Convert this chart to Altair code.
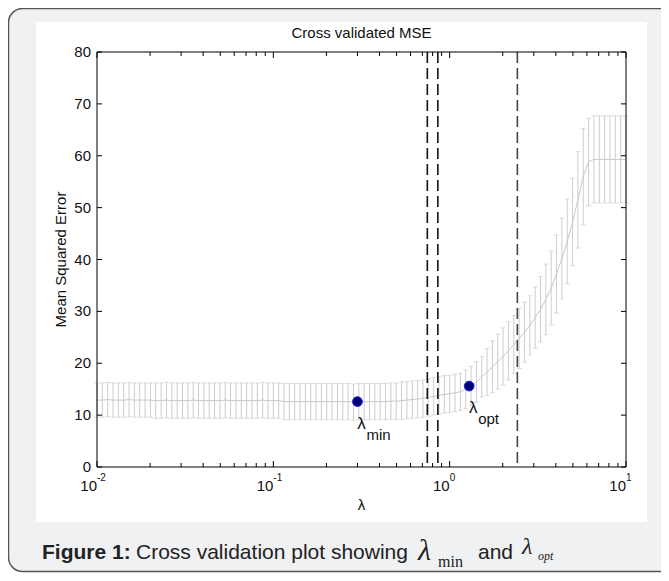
import altair as alt
import pandas as pd

# ---- data ----
lam = [0.0100, 0.01072, 0.01150, 0.01233, 0.01322, 0.01418, 0.01520, 0.01630, 0.01748, 0.01874,
       0.02009, 0.02154, 0.02310, 0.02477, 0.02656, 0.02848, 0.03054, 0.03275, 0.03511, 0.03765,
       0.04037, 0.04329, 0.04642, 0.04977, 0.05337, 0.05722, 0.06136, 0.06579, 0.07055, 0.07565,
       0.08111, 0.08697, 0.09326,
       0.1000, 0.1072, 0.1150, 0.1233, 0.1322, 0.1418, 0.1520, 0.1630, 0.1748, 0.1874,
       0.2009, 0.2154, 0.2310, 0.2477, 0.2656, 0.2848, 0.3054, 0.3275, 0.3511, 0.3765,
       0.4037, 0.4329, 0.4642, 0.4977, 0.5337, 0.5722, 0.6136, 0.6579, 0.7055, 0.7565,
       0.8111, 0.8697, 0.9326,
       1.000, 1.072, 1.150, 1.233, 1.322, 1.418, 1.520, 1.630, 1.748, 1.874,
       2.009, 2.154, 2.310, 2.477, 2.656, 2.848, 3.054, 3.275, 3.511, 3.765,
       4.037, 4.329, 4.642, 4.977, 5.337, 5.722, 6.136, 6.579, 7.055, 7.565,
       8.111, 8.697, 9.326, 10.00]

mse = [12.9, 12.9, 13.0, 12.9, 12.9, 12.9, 13.0, 12.9, 12.9, 12.9, 12.9,
       12.8, 12.8, 12.9, 12.8, 12.8, 12.8, 12.8, 12.9, 12.8, 12.8, 12.8, 12.8,
       12.8, 12.9, 12.8, 12.8, 12.8, 12.8, 12.8, 12.8, 12.9, 12.8, 12.8, 12.8,
       12.6, 12.6, 12.6, 12.6, 12.6, 12.6, 12.6, 12.6, 12.6, 12.6, 12.6, 12.6,
       12.6, 12.5, 12.6, 12.6, 12.6, 12.6,
       12.6, 12.6, 12.7, 12.7, 12.8, 12.9, 13.0,
       13.1, 13.2, 13.4, 13.6, 13.8, 14.0, 14.1, 14.3, 14.5, 15.0, 15.6, 16.4,
       17.4, 18.3, 19.3, 20.3, 21.3, 22.4, 23.6, 24.8, 26.0, 27.3, 28.8, 30.4,
       32.3, 34.5, 37.2, 40.2, 43.5, 47.2, 51.5, 56.0, 58.8,
       59.3, 59.3, 59.3, 59.3, 59.3, 59.3, 59.3]

err = [3.3] * 11 + [3.4] * 24 + [3.5] * 18 + \
      [3.5, 3.5, 3.5, 3.5, 3.6, 3.6, 3.6] + \
      [3.6, 3.6, 3.6, 3.6, 3.6, 3.6, 3.6, 3.6, 3.6, 3.7, 3.8, 3.9] + \
      [3.9, 4.5, 5.0, 5.3, 5.5, 5.6, 5.6, 5.8, 5.8, 5.7, 5.9, 6.3, 6.8, 7.1,
       7.5, 7.8, 8.2, 8.4, 9.3, 9.3, 8.4] + [8.4] * 7

mark_lam = [0.30, 1.29]
mark_mse = [12.6, 15.6]
mark_name = ["min", "opt"]

vline_lam = [0.747, 0.857, 2.42]
vline_col = ["#111111", "#111111", "#444444"]

y_ticks = [0, 10, 20, 30, 40, 50, 60, 70, 80]
x_major = [0.01, 0.1, 1, 10]
x_sup = ["-2", "-1", "0", "1"]
x_minor = [0.02, 0.03, 0.04, 0.05, 0.06, 0.07, 0.08, 0.09,
           0.2, 0.3, 0.4, 0.5, 0.6, 0.7, 0.8, 0.9,
           2, 3, 4, 5, 6, 7, 8, 9]

title_text = "Cross validated MSE"
ylabel_text = "Mean Squared Error"
xlabel_text = "λ"

# ---- tables ----
df = pd.DataFrame({"lam": lam, "mse": mse, "err": err})
df["lo"] = df["mse"] - df["err"]
df["hi"] = df["mse"] + df["err"]
pts = pd.DataFrame({"lam": mark_lam, "mse": mark_mse, "name": mark_name})
vl = pd.DataFrame({"lam": vline_lam, "c": vline_col})
yt = pd.DataFrame({"v": y_ticks, "t": [str(v) for v in y_ticks]})
xmj = pd.DataFrame({"v": x_major, "sup": x_sup})
xmn = pd.DataFrame({"v": x_minor})
one = pd.DataFrame({"a": [0]})

W, H = 529, 415
xs = alt.Scale(type="log", domain=[0.01, 10], nice=False)
ys = alt.Scale(domain=[0, 80], nice=False, zero=False)
FONT = "Liberation Sans"
TXT = "#111111"
CAP = "#222222"

def X(f):
    return alt.X(f, type="quantitative", scale=xs, axis=None)

def Y(f):
    return alt.Y(f, type="quantitative", scale=ys, axis=None)

layers = []

# background panel with rounded border, and white figure area
layers.append(alt.Chart(one).mark_rect(fill="#f0f1f3", stroke="#555555", strokeWidth=1.5,
                                       cornerRadius=14)
              .encode(x=alt.value(-88.5), x2=alt.value(700), y=alt.value(-43.5), y2=alt.value(519.5)))
layers.append(alt.Chart(one).mark_rect(fill="white")
              .encode(x=alt.value(-61), x2=alt.value(550), y=alt.value(-30), y2=alt.value(470)))

# error bars
bar_col = "#cdcdcd"
layers.append(alt.Chart(df).mark_rule(color=bar_col, strokeWidth=1)
              .encode(x=X("lam"), y=Y("lo"), y2="hi:Q"))
layers.append(alt.Chart(df).mark_tick(orient="horizontal", size=5, thickness=1, color=bar_col)
              .encode(x=X("lam"), y=Y("lo")))
layers.append(alt.Chart(df).mark_tick(orient="horizontal", size=5, thickness=1, color=bar_col)
              .encode(x=X("lam"), y=Y("hi")))
layers.append(alt.Chart(df).mark_line(color="#c8c8c8", strokeWidth=1)
              .encode(x=X("lam"), y=Y("mse")))

# dashed vertical lines
layers.append(alt.Chart(vl).mark_rule(strokeDash=[11, 5], strokeWidth=1.6)
              .encode(x=X("lam"), y=alt.value(0), y2=alt.value(H),
                      color=alt.Color("c:N", scale=None)))

# marked points
layers.append(alt.Chart(pts).mark_circle(size=95, opacity=1, fill="#000070", stroke="#1a1aff",
                                         strokeWidth=1)
              .encode(x=X("lam"), y=Y("mse")))
layers.append(alt.Chart(pts).mark_text(text="λ", font=FONT, fontSize=17, align="center",
                                       baseline="middle", dx=4, dy=22, color=TXT)
              .encode(x=X("lam"), y=Y("mse")))
layers.append(alt.Chart(pts).mark_text(font=FONT, fontSize=15, align="left",
                                       baseline="middle", dx=9, dy=33, color=TXT)
              .encode(x=X("lam"), y=Y("mse"), text="name:N"))

# frame
layers.append(alt.Chart(one).mark_rect(fillOpacity=0, stroke="#000000", strokeWidth=1)
              .encode(x=alt.value(0), x2=alt.value(W), y=alt.value(0), y2=alt.value(H)))

# inward ticks
tick_col = "#000000"
layers.append(alt.Chart(xmj).mark_rule(color=tick_col)
              .encode(x=X("v"), y=alt.value(H - 6), y2=alt.value(H)))
layers.append(alt.Chart(xmj).mark_rule(color=tick_col)
              .encode(x=X("v"), y=alt.value(0), y2=alt.value(6)))
layers.append(alt.Chart(xmn).mark_rule(color=tick_col)
              .encode(x=X("v"), y=alt.value(H - 4), y2=alt.value(H)))
layers.append(alt.Chart(xmn).mark_rule(color=tick_col)
              .encode(x=X("v"), y=alt.value(0), y2=alt.value(4)))
layers.append(alt.Chart(yt).mark_rule(color=tick_col)
              .encode(y=Y("v"), x=alt.value(0), x2=alt.value(5)))
layers.append(alt.Chart(yt).mark_rule(color=tick_col)
              .encode(y=Y("v"), x=alt.value(W - 5), x2=alt.value(W)))

# tick labels
layers.append(alt.Chart(yt).mark_text(font=FONT, fontSize=15, align="right", baseline="middle",
                                      color=TXT)
              .encode(y=Y("v"), x=alt.value(-6), text="t:N"))
layers.append(alt.Chart(xmj).mark_text(text="10", font=FONT, fontSize=15, align="right",
                                       baseline="middle", color=TXT)
              .encode(x=X("v"), y=alt.value(H + 19)))
layers.append(alt.Chart(xmj).mark_text(font=FONT, fontSize=10, align="left",
                                       baseline="middle", color=TXT)
              .encode(x=X("v"), y=alt.value(H + 11), text="sup:N"))

# titles
layers.append(alt.Chart(one).mark_text(text=title_text, font=FONT, fontSize=15, align="center",
                                       baseline="middle", color=TXT)
              .encode(x=alt.value(W / 2), y=alt.value(-19)))
layers.append(alt.Chart(one).mark_text(text=ylabel_text, font=FONT, fontSize=15, align="center",
                                       baseline="middle", angle=270, color=TXT)
              .encode(x=alt.value(-36), y=alt.value(H / 2)))
layers.append(alt.Chart(one).mark_text(text=xlabel_text, font=FONT, fontSize=15, align="center",
                                       baseline="middle", color=TXT)
              .encode(x=alt.value(W / 2), y=alt.value(H + 38)))

# caption
cap_y = 501
layers.append(alt.Chart(one).mark_text(text="Figure 1:", font=FONT, fontSize=21, fontWeight="bold",
                                       align="left", baseline="middle", color=CAP)
              .encode(x=alt.value(-55), y=alt.value(cap_y)))
layers.append(alt.Chart(one).mark_text(text="Cross validation plot showing", font=FONT, fontSize=21,
                                       align="left", baseline="middle", color=CAP)
              .encode(x=alt.value(39), y=alt.value(cap_y)))
layers.append(alt.Chart(one).mark_text(text="λ", font="Liberation Serif", fontStyle="italic",
                                       fontSize=30, align="left", baseline="middle", color=CAP)
              .encode(x=alt.value(321), y=alt.value(cap_y - 2)))
layers.append(alt.Chart(one).mark_text(text="min", font="Liberation Serif", fontSize=16,
                                       align="left", baseline="middle", color=CAP)
              .encode(x=alt.value(341), y=alt.value(cap_y + 9)))
layers.append(alt.Chart(one).mark_text(text="and", font=FONT, fontSize=21,
                                       align="left", baseline="middle", color=CAP)
              .encode(x=alt.value(381), y=alt.value(cap_y)))
layers.append(alt.Chart(one).mark_text(text="λ", font="Liberation Serif", fontStyle="italic",
                                       fontSize=24, align="left", baseline="middle", color=CAP)
              .encode(x=alt.value(425), y=alt.value(cap_y - 6)))
layers.append(alt.Chart(one).mark_text(text="opt", font="Liberation Serif", fontStyle="italic",
                                       fontSize=12, align="left", baseline="middle", color=CAP)
              .encode(x=alt.value(441), y=alt.value(cap_y + 3)))

chart = alt.layer(*layers).properties(
    width=W, height=H,
    autosize=alt.AutoSizeParams(type="none"),
    padding={"left": 89, "top": 44, "right": 35, "bottom": 106},
).configure_view(stroke=None)

chart.save("out.html", embed_options={"renderer": "svg", "actions": False})
